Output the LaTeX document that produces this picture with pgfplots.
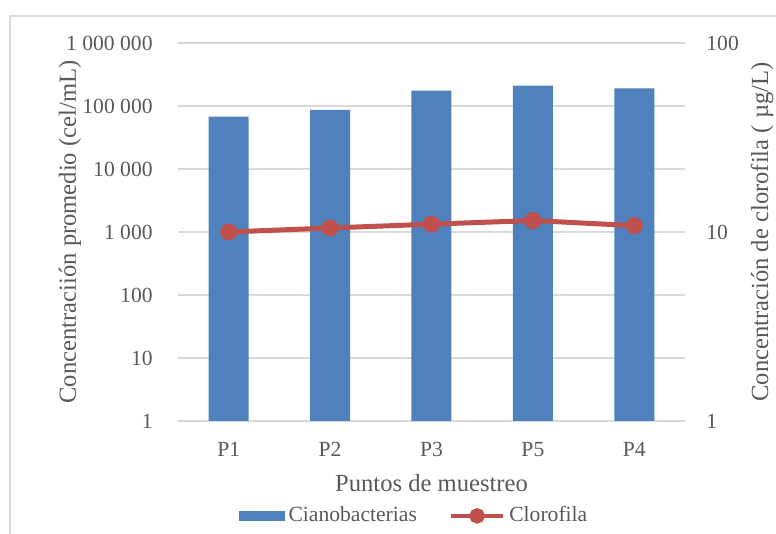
\documentclass[border=0pt]{standalone}
\usepackage{pgfplots}
\pgfplotsset{compat=1.18}
\usepackage{fontspec}
\setmainfont{Liberation Serif}

\definecolor{barblue}{HTML}{4F81BD}
\definecolor{linered}{HTML}{C0504D}
\definecolor{gridgray}{HTML}{D9D9D9}
\definecolor{txtgray}{HTML}{595959}
\definecolor{framegray}{HTML}{D9D9D9}

\pgfplotsset{
  chartbase/.style={
    scale only axis,
    width=253.5pt, height=189pt,
    at={(89pt,56.5pt)}, anchor=south west,
    xmin=-0.5, xmax=4.5,
    axis line style={draw=none},
    major tick length=0pt, minor tick length=0pt,
    tick label style={font=\fontsize{10.8}{12}\selectfont, text=txtgray},
    label style={font=\fontsize{12.3}{14}\selectfont, text=txtgray},
  }
}

\begin{document}
\begin{tikzpicture}
\useasboundingbox (0,0) rectangle (388pt,267pt);
% outer chart frame (top and left edges)
\draw[framegray, line width=0.8pt] (5pt,0) -- (5pt,259pt) -- (388pt,259pt);

% Cianobacterias: bars on the left log axis
\begin{axis}[chartbase,
    ymode=log,
    ymin=1, ymax=1000000,
    ytick={1,10,100,1000,10000,100000,1000000},
    yticklabels={1,10,100,1~000,10~000,100~000,1~000~000},
    yticklabel style={inner sep=0pt, xshift=-12.5pt},
    xtick={0,1,2,3,4},
    xticklabels={P1,P2,P3,P5,P4},
    xticklabel style={inner sep=0pt, yshift=-10.5pt},
    ymajorgrids, major grid style={gridgray, line width=0.8pt},
    log origin=0,
    xlabel={Puntos de muestreo},
    xlabel style={at={(axis description cs:0.5,-0.164)}, anchor=center},
    ylabel={Concentraciión promedio (cel/mL)},
    ylabel style={at={(axis description cs:-0.213,0.5)}, anchor=center},
  ]
  \addplot[ybar, bar width=20pt, fill=barblue, draw=none]
    coordinates {(0,68000) (1,86500) (2,175000) (3,210000) (4,190000)};
\end{axis}

% Clorofila: line on the right log axis
\begin{axis}[chartbase,
    ymode=log,
    ymin=1, ymax=100,
    ytick={1,10,100},
    yticklabels={1,10,100},
    axis y line*=right,
    axis x line=none,
    yticklabel style={inner sep=0pt, xshift=10.5pt, anchor=west},
    ylabel={Concentración de clorofila ( µg/L)},
    ylabel style={at={(axis description cs:1.152,0.5)}, anchor=center},
    legend columns=2,
    legend style={draw=none, fill=none, at={(axis description cs:0.4675,-0.251)}, anchor=center,
      font=\fontsize{10.8}{12}\selectfont, text=txtgray,
      /tikz/every even column/.append style={column sep=14pt},
      inner sep=0pt},
  ]
  \addlegendimage{legend image code/.code={\fill[barblue] (0pt,-2.25pt) rectangle (22.5pt,2.25pt);}}
  \addlegendentry{Cianobacterias}
  \addplot[linered, line width=2.5pt, mark=*, mark size=3pt, mark options={fill=linered, draw=linered},
    legend image code/.code={\draw[linered, line width=2.2pt] (0pt,0pt) -- (26pt,0pt); \fill[linered] (13pt,0pt) circle (2.6pt);}]
    coordinates {(0,10.0) (1,10.5) (2,11.0) (3,11.5) (4,10.8)};
  \addlegendentry{Clorofila}
\end{axis}
\end{tikzpicture}
\end{document}
